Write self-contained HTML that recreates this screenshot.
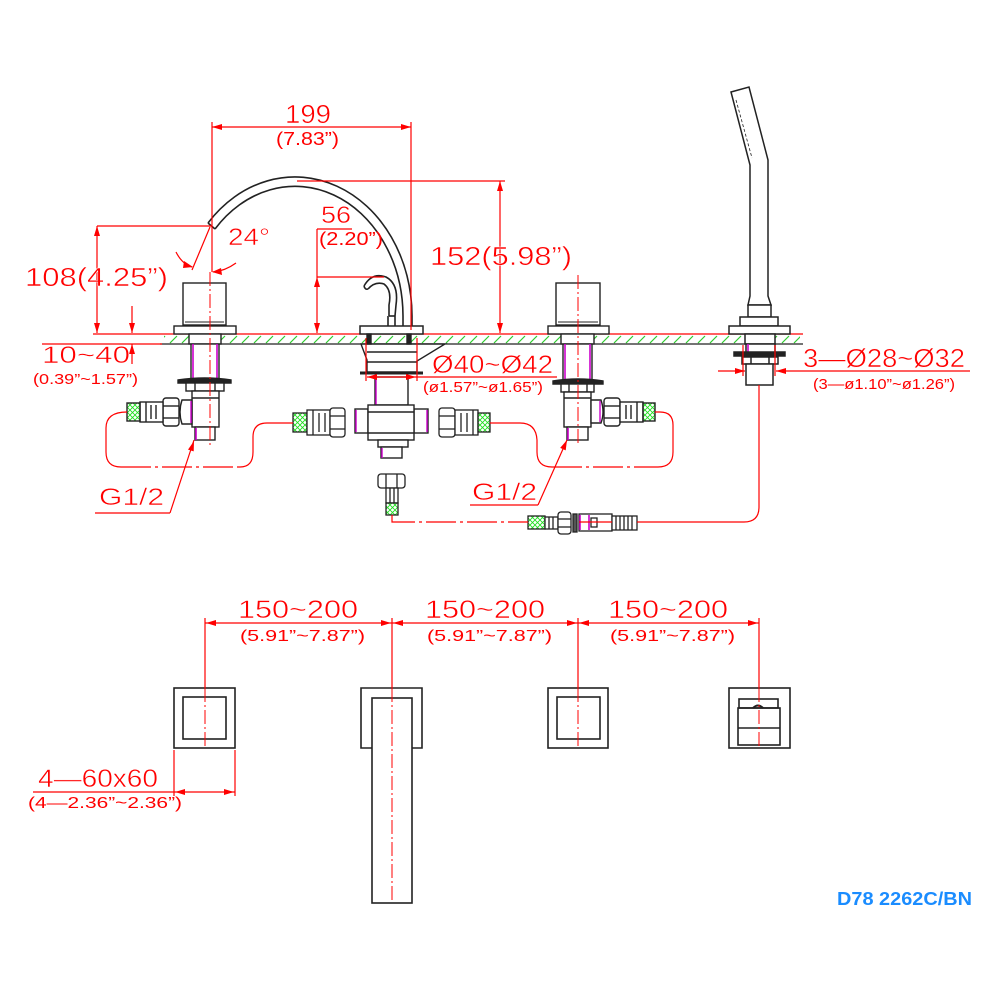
<!DOCTYPE html>
<html>
<head>
<meta charset="utf-8">
<style>
html,body{margin:0;padding:0;background:#fff;}
svg{display:block;}
text{font-family:"Liberation Sans","DejaVu Sans",sans-serif;}
</style>
</head>
<body>
<svg width="1000" height="1000" viewBox="0 0 1000 1000" xmlns="http://www.w3.org/2000/svg">
<defs>
<pattern id="h" x="0" y="335" width="12" height="9" patternUnits="userSpaceOnUse">
<line x1="2" y1="8" x2="9" y2="1" stroke="#2ecc2e" stroke-width="1.2"/>
</pattern>
<pattern id="g" x="0" y="0" width="5" height="5" patternUnits="userSpaceOnUse">
<path d="M0,0 L5,5 M5,0 L0,5" stroke="#22dd22" stroke-width="0.9"/>
</pattern>
</defs>
<rect width="1000" height="1000" fill="#fff"/>

<!-- ===== DECK ===== -->
<rect x="164" y="335" width="636" height="9" fill="url(#h)"/>
<line x1="93" y1="334" x2="803" y2="334" stroke="#f00" stroke-width="1.3"/>
<line x1="160" y1="344" x2="803" y2="344" stroke="#222" stroke-width="1.3"/>
<line x1="42" y1="344" x2="162" y2="344" stroke="#f00" stroke-width="1.2"/>

<!-- ===== SPOUT ===== -->
<g fill="none" stroke="#222" stroke-width="1.6">
<path d="M208,223 A117,139 0 0 1 412,316 L412,326"/>
<path d="M215,229 A108,130 0 0 1 403,316 L403,326"/>
<line x1="208" y1="223" x2="215" y2="229"/>
<path d="M364,286 Q372,272 386,277 Q399,284 396,305 L395,316"/>
<path d="M368,289 Q375,281 384,284 Q392,290 389,305 L389,316"/>
<path d="M364,286 Q365,290 368,289"/>
<line x1="389" y1="316" x2="395" y2="316"/>
<line x1="388" y1="316" x2="388" y2="326"/>
<line x1="395" y1="316" x2="395" y2="326"/>
</g>
<rect x="360" y="326" width="63" height="8" fill="#fff" stroke="#222" stroke-width="1.5"/>
<g stroke="#222" stroke-width="1.4" fill="#fff">
<path d="M361,344 L445,344 L417,361 L417,372 L367,372 L367,360 Z"/>
<line x1="367" y1="352" x2="417" y2="352"/>
<line x1="367" y1="362" x2="417" y2="362"/>
<rect x="367" y="334" width="4" height="10" fill="#222"/>
<rect x="407" y="334" width="4" height="10" fill="#222"/>
<line x1="360" y1="373" x2="423" y2="373" stroke-width="3"/>
<rect x="375" y="377" width="33" height="28"/>
<line x1="376" y1="378" x2="376" y2="405" stroke="#c0c"/>
<rect x="355" y="409" width="13" height="24"/>
<rect x="414" y="409" width="14" height="24"/>
<rect x="368" y="405" width="46" height="35"/>
<line x1="368" y1="412" x2="414" y2="412"/>
<line x1="368" y1="433" x2="414" y2="433"/>
<line x1="356" y1="410" x2="356" y2="432" stroke="#c0c"/>
<line x1="427" y1="410" x2="427" y2="432" stroke="#c0c"/>
<rect x="378" y="440" width="30" height="7"/>
<rect x="381" y="447" width="21" height="11"/>
<line x1="382" y1="448" x2="382" y2="458" stroke="#c0c"/>
</g>
<g stroke="#222" stroke-width="1.3" fill="#fff">
<rect x="293" y="413" width="14" height="19" fill="url(#g)"/>
<rect x="307" y="410" width="23" height="25"/>
<line x1="313" y1="410" x2="313" y2="435"/><line x1="319" y1="413" x2="319" y2="432"/><line x1="325" y1="413" x2="325" y2="432"/>
<rect x="330" y="408" width="15" height="29" rx="3"/>
<line x1="330" y1="416" x2="345" y2="416"/><line x1="330" y1="429" x2="345" y2="429"/>
<rect x="439" y="408" width="16" height="29" rx="3"/>
<line x1="439" y1="416" x2="455" y2="416"/><line x1="439" y1="429" x2="455" y2="429"/>
<rect x="455" y="410" width="23" height="25"/>
<line x1="461" y1="413" x2="461" y2="432"/><line x1="467" y1="413" x2="467" y2="432"/><line x1="473" y1="410" x2="473" y2="435"/>
<rect x="478" y="413" width="12" height="19" fill="url(#g)"/>
</g>
<g stroke="#222" stroke-width="1.3" fill="#fff">
<rect x="378" y="474" width="27" height="14" rx="3"/>
<line x1="386" y1="474" x2="386" y2="488"/><line x1="397" y1="474" x2="397" y2="488"/>
<rect x="386" y="488" width="12" height="15"/>
<line x1="390" y1="488" x2="390" y2="503"/><line x1="394" y1="488" x2="394" y2="503"/>
<rect x="386" y="503" width="12" height="12" fill="url(#g)"/>
</g>

<!-- ===== LEFT VALVE ===== -->
<g stroke="#222" stroke-width="1.4" fill="#fff">
<rect x="183" y="283" width="43" height="42"/>
<line x1="185" y1="322" x2="224" y2="322" stroke-width="1"/>
<rect x="174" y="326" width="62" height="8"/>
<rect x="189" y="334" width="32" height="10"/>
<rect x="191" y="344" width="28" height="35"/>
<line x1="193" y1="344" x2="193" y2="379" stroke="#c0c" stroke-width="1.6"/>
<line x1="217" y1="344" x2="217" y2="379" stroke="#c0c" stroke-width="1.6"/>
<path d="M178,380 Q205,376 231,380 L231,383 L178,383 Z" fill="#222"/>
<rect x="186" y="383" width="38" height="8"/>
<line x1="195" y1="383" x2="195" y2="391"/><line x1="215" y1="383" x2="215" y2="391"/>
<rect x="192" y="391" width="27" height="36"/>
<line x1="192" y1="398" x2="219" y2="398"/>
<rect x="195" y="427" width="20" height="13"/>
<line x1="196" y1="428" x2="196" y2="440" stroke="#c0c" stroke-width="1.6"/>
<path d="M192,400 L182,400 Q178,412 182,424 L192,424 Z"/>
<line x1="191" y1="401" x2="191" y2="423" stroke="#c0c"/>
<rect x="163" y="398" width="16" height="28" rx="3"/>
<line x1="163" y1="406" x2="179" y2="406"/><line x1="163" y1="418" x2="179" y2="418"/>
<rect x="140" y="402" width="23" height="20"/>
<line x1="146" y1="402" x2="146" y2="422"/><line x1="151" y1="405" x2="151" y2="419"/><line x1="156" y1="405" x2="156" y2="419"/>
<rect x="127" y="403" width="13" height="18" fill="url(#g)"/>
</g>

<!-- ===== RIGHT VALVE ===== -->
<g stroke="#222" stroke-width="1.4" fill="#fff">
<rect x="556" y="283" width="44" height="42"/>
<line x1="558" y1="322" x2="598" y2="322" stroke-width="1"/>
<rect x="548" y="326" width="61" height="8"/>
<rect x="561" y="334" width="33" height="10"/>
<rect x="563" y="344" width="29" height="36"/>
<line x1="565" y1="344" x2="565" y2="380" stroke="#c0c" stroke-width="1.6"/>
<line x1="590" y1="344" x2="590" y2="380" stroke="#c0c" stroke-width="1.6"/>
<path d="M553,381 Q578,377 603,381 L603,384 L553,384 Z" fill="#222"/>
<rect x="561" y="384" width="33" height="8"/>
<line x1="569" y1="384" x2="569" y2="392"/><line x1="587" y1="384" x2="587" y2="392"/>
<rect x="564" y="392" width="27" height="35"/>
<line x1="564" y1="398" x2="591" y2="398"/>
<rect x="567" y="427" width="21" height="13"/>
<line x1="568" y1="428" x2="568" y2="440" stroke="#c0c" stroke-width="1.6"/>
<path d="M591,400 L601,400 Q605,412 601,423 L591,423 Z"/>
<line x1="600" y1="401" x2="600" y2="422" stroke="#c0c"/>
<rect x="604" y="398" width="16" height="28" rx="3"/>
<line x1="604" y1="406" x2="620" y2="406"/><line x1="604" y1="418" x2="620" y2="418"/>
<rect x="620" y="402" width="23" height="20"/>
<line x1="626" y1="405" x2="626" y2="419"/><line x1="631" y1="405" x2="631" y2="419"/><line x1="637" y1="402" x2="637" y2="422"/>
<rect x="643" y="403" width="12" height="18" fill="url(#g)"/>
</g>

<!-- ===== HAND SHOWER ===== -->
<g stroke="#222" stroke-width="1.5" fill="#fff">
<path d="M731,92 L749,87 L768,160 L768,296 L771,305 L748,305 L750,296 L750,165 Z"/>
<line x1="736" y1="100" x2="752" y2="158" stroke-width="0.8" stroke-dasharray="3 2"/>
<rect x="748" y="305" width="23" height="12"/>
<rect x="740" y="317" width="38" height="9"/>
<rect x="729" y="326" width="61" height="8"/>
<rect x="745" y="334" width="30" height="10"/>
<rect x="746" y="344" width="29" height="9"/>
<line x1="748" y1="344" x2="748" y2="372" stroke="#c0c" stroke-width="1.6"/>
<rect x="734" y="352" width="51" height="4" fill="#222"/>
<rect x="742" y="357" width="36" height="7"/>
<line x1="751" y1="357" x2="751" y2="364"/><line x1="769" y1="357" x2="769" y2="364"/>
<rect x="746" y="364" width="27" height="21"/>
</g>
<g stroke="#222" stroke-width="1.3" fill="#fff">
<rect x="528" y="516" width="17" height="13" fill="url(#g)"/>
<rect x="545" y="517" width="13" height="12"/>
<line x1="549" y1="517" x2="549" y2="529"/><line x1="553" y1="517" x2="553" y2="529"/>
<rect x="558" y="512" width="13" height="22" rx="3"/>
<line x1="558" y1="519" x2="571" y2="519"/><line x1="558" y1="527" x2="571" y2="527"/>
<rect x="573" y="514" width="4" height="18" fill="#555"/>
<rect x="579" y="514" width="33" height="17"/>
<line x1="580" y1="515" x2="580" y2="530" stroke="#c0c" stroke-width="1.6"/>
<line x1="589" y1="515" x2="589" y2="530" stroke="#c0c" stroke-width="1.6"/>
<rect x="591" y="518" width="6" height="9"/>
<rect x="612" y="516" width="25" height="14"/>
<line x1="616" y1="516" x2="616" y2="530"/><line x1="620" y1="516" x2="620" y2="530"/><line x1="624" y1="516" x2="624" y2="530"/><line x1="628" y1="516" x2="628" y2="530"/><line x1="632" y1="516" x2="632" y2="530"/>
</g>

<!-- ===== RED HOSE LINES ===== -->
<g fill="none" stroke="#f00" stroke-width="1.2">
<path d="M127,412 Q106,412 106,428 L106,452 Q106,467 121,467"/>
<path d="M121,467 L240,467" stroke-dasharray="30 4 3 4"/>
<path d="M240,467 Q253,467 253,452 L253,437 Q253,423 267,423 L293,423"/>
<path d="M490,423 L520,423 Q536,423 537,440 L537,452 Q537,467 552,467"/>
<path d="M552,467 L658,467" stroke-dasharray="30 4 3 4"/>
<path d="M658,467 Q673,467 673,452 L673,425 Q673,412 660,412 L655,412"/>
<path d="M392,515 L392,522 L528,522" stroke-dasharray="30 4 3 4"/>
<path d="M637,522 L744,522 Q759,522 759,507 L759,385"/>
<line x1="579" y1="522" x2="612" y2="522"/>
</g>

<g stroke="#f00" stroke-width="1" stroke-dasharray="14 3 2 3">
<line x1="210" y1="272" x2="210" y2="445"/>
<line x1="578" y1="275" x2="578" y2="445"/>
</g>

<!-- ===== DIMENSIONS TOP ===== -->
<g stroke="#f00" stroke-width="1.2" fill="none">
<line x1="212" y1="127" x2="411" y2="127"/>
<line x1="212" y1="122" x2="212" y2="272"/>
<line x1="411" y1="122" x2="411" y2="330"/>
<line x1="297" y1="181" x2="505" y2="181"/>
<line x1="500" y1="181" x2="500" y2="333"/>
<line x1="317" y1="229" x2="317" y2="333"/>
<line x1="317" y1="229" x2="352" y2="229"/>
<line x1="317" y1="277" x2="384" y2="277"/>
<line x1="97" y1="226" x2="97" y2="333"/>
<line x1="97" y1="226" x2="212" y2="226"/>
<line x1="132" y1="306" x2="132" y2="333"/>
<line x1="132" y1="344" x2="132" y2="364"/>
<line x1="210" y1="227" x2="192" y2="270"/>
<path d="M176,252 Q182,264 192,267"/>
<path d="M236,263 Q225,271 213,272"/>
<line x1="366" y1="338" x2="366" y2="381"/>
<line x1="417" y1="338" x2="417" y2="381"/>
<line x1="367" y1="377" x2="557" y2="377"/>
<line x1="743" y1="345" x2="743" y2="376"/>
<line x1="775" y1="345" x2="775" y2="376"/>
<line x1="718" y1="371" x2="745" y2="371"/>
<line x1="776" y1="371" x2="970" y2="371"/>
<line x1="194" y1="440" x2="170" y2="513"/>
<line x1="95" y1="513" x2="170" y2="513"/>
<line x1="567" y1="440" x2="538" y2="505"/>
<line x1="470" y1="505" x2="538" y2="505"/>
</g>
<g fill="#f00">
<polygon points="212,127 222,124 222,130"/>
<polygon points="411,127 401,124 401,130"/>
<polygon points="500,181 497,191 503,191"/>
<polygon points="500,333 497,323 503,323"/>
<polygon points="317,277 314,287 320,287"/>
<polygon points="317,333 314,323 320,323"/>
<polygon points="97,226 94,236 100,236"/>
<polygon points="97,333 94,323 100,323"/>
<polygon points="132,333 129,323 135,323"/>
<polygon points="132,344 129,354 135,354"/>
<polygon points="193,267 184,261 183,268"/>
<polygon points="212,272 221,268 222,275"/>
<polygon points="367,377 377,374 377,380"/>
<polygon points="416,377 406,374 406,380"/>
<polygon points="745,371 735,368 735,374"/>
<polygon points="776,371 786,368 786,374"/>
<polygon points="194,441 193.7,451.4 188,449.6"/>
<polygon points="567,440 565.7,450.4 560.2,447.9"/>
</g>

<!-- ===== TEXT TOP ===== -->
<g fill="#f00" stroke="#fff" stroke-width="0.5">
<text x="285" y="123" font-size="26" textLength="46" lengthAdjust="spacingAndGlyphs">199</text>
<text x="228" y="245" font-size="24" textLength="42" lengthAdjust="spacingAndGlyphs">24°</text>
<text x="321" y="223" font-size="24" textLength="30" lengthAdjust="spacingAndGlyphs">56</text>
<text x="25" y="286" font-size="26" textLength="143" lengthAdjust="spacingAndGlyphs">108(4.25”)</text>
<text x="430" y="265" font-size="26" textLength="142" lengthAdjust="spacingAndGlyphs">152(5.98”)</text>
<text x="42" y="363" font-size="24" textLength="88" lengthAdjust="spacingAndGlyphs">10~40</text>
<text x="432" y="373" font-size="25" textLength="121" lengthAdjust="spacingAndGlyphs">Ø40~Ø42</text>
<text x="99" y="505" font-size="24" textLength="65" lengthAdjust="spacingAndGlyphs">G1/2</text>
<text x="472" y="500" font-size="24" textLength="65" lengthAdjust="spacingAndGlyphs">G1/2</text>
<text x="803" y="367" font-size="26" textLength="162" lengthAdjust="spacingAndGlyphs">3—Ø28~Ø32</text>
</g>
<g fill="#f00">
<text x="276" y="145" font-size="18" textLength="63" lengthAdjust="spacingAndGlyphs">(7.83”)</text>
<text x="319" y="245" font-size="18" textLength="64" lengthAdjust="spacingAndGlyphs">(2.20”)</text>
<text x="33" y="384" font-size="15" textLength="105" lengthAdjust="spacingAndGlyphs">(0.39”~1.57”)</text>
<text x="423" y="392" font-size="15" textLength="120" lengthAdjust="spacingAndGlyphs">(ø1.57”~ø1.65”)</text>
<text x="813" y="389" font-size="15" textLength="142" lengthAdjust="spacingAndGlyphs">(3—ø1.10”~ø1.26”)</text>
</g>

<!-- ===== PLAN VIEW ===== -->
<g stroke="#222" stroke-width="1.6" fill="none">
<rect x="174" y="688" width="61" height="60"/>
<rect x="183" y="697" width="43" height="42"/>
<path d="M372,748 L361,748 L361,688 L422,688 L422,748 L412,748"/>
<rect x="372" y="698" width="40" height="205"/>
<rect x="548" y="688" width="60" height="60"/>
<rect x="557" y="697" width="43" height="42"/>
<rect x="729" y="688" width="61" height="60"/>
<rect x="739" y="699" width="39" height="9"/>
<rect x="738" y="708" width="42" height="37"/>
<line x1="738" y1="728" x2="780" y2="728"/>
<path d="M753,708 Q758,703 763,708" stroke-width="2"/>
</g>
<g stroke="#f00" stroke-width="1.2">
<line x1="205" y1="618" x2="205" y2="688"/>
<line x1="392" y1="618" x2="392" y2="688"/>
<line x1="578" y1="618" x2="578" y2="688"/>
<line x1="759" y1="618" x2="759" y2="688"/>
<line x1="205" y1="623" x2="759" y2="623"/>
<line x1="174" y1="750" x2="174" y2="796"/>
<line x1="235" y1="750" x2="235" y2="796"/>
<line x1="33" y1="792" x2="235" y2="792"/>
</g>
<g stroke="#f00" stroke-width="1" stroke-dasharray="14 3 2 3">
<line x1="205" y1="688" x2="205" y2="748"/>
<line x1="392" y1="688" x2="392" y2="903"/>
<line x1="578" y1="688" x2="578" y2="748"/>
<line x1="759" y1="688" x2="759" y2="748"/>
</g>
<g fill="#f00">
<polygon points="206,623 216,620 216,626"/>
<polygon points="391,623 381,620 381,626"/>
<polygon points="393,623 403,620 403,626"/>
<polygon points="577,623 567,620 567,626"/>
<polygon points="579,623 589,620 589,626"/>
<polygon points="758,623 748,620 748,626"/>
<polygon points="175,792 185,789 185,795"/>
<polygon points="234,792 224,789 224,795"/>
</g>
<g fill="#f00" stroke="#fff" stroke-width="0.5">
<text x="238" y="618" font-size="25" textLength="120" lengthAdjust="spacingAndGlyphs">150~200</text>
<text x="425" y="618" font-size="25" textLength="120" lengthAdjust="spacingAndGlyphs">150~200</text>
<text x="608" y="618" font-size="25" textLength="120" lengthAdjust="spacingAndGlyphs">150~200</text>
<text x="38" y="787" font-size="25" textLength="120" lengthAdjust="spacingAndGlyphs">4—60x60</text>
</g>
<g fill="#f00">
<text x="240" y="641" font-size="16" textLength="125" lengthAdjust="spacingAndGlyphs">(5.91”~7.87”)</text>
<text x="427" y="641" font-size="16" textLength="125" lengthAdjust="spacingAndGlyphs">(5.91”~7.87”)</text>
<text x="610" y="641" font-size="16" textLength="125" lengthAdjust="spacingAndGlyphs">(5.91”~7.87”)</text>
<text x="28" y="808" font-size="16" textLength="154" lengthAdjust="spacingAndGlyphs">(4—2.36”~2.36”)</text>
</g>
<text x="837" y="905" font-size="18" font-weight="bold" fill="#1a8cff" textLength="135" lengthAdjust="spacingAndGlyphs">D78 2262C/BN</text>
</svg>
</body>
</html>
